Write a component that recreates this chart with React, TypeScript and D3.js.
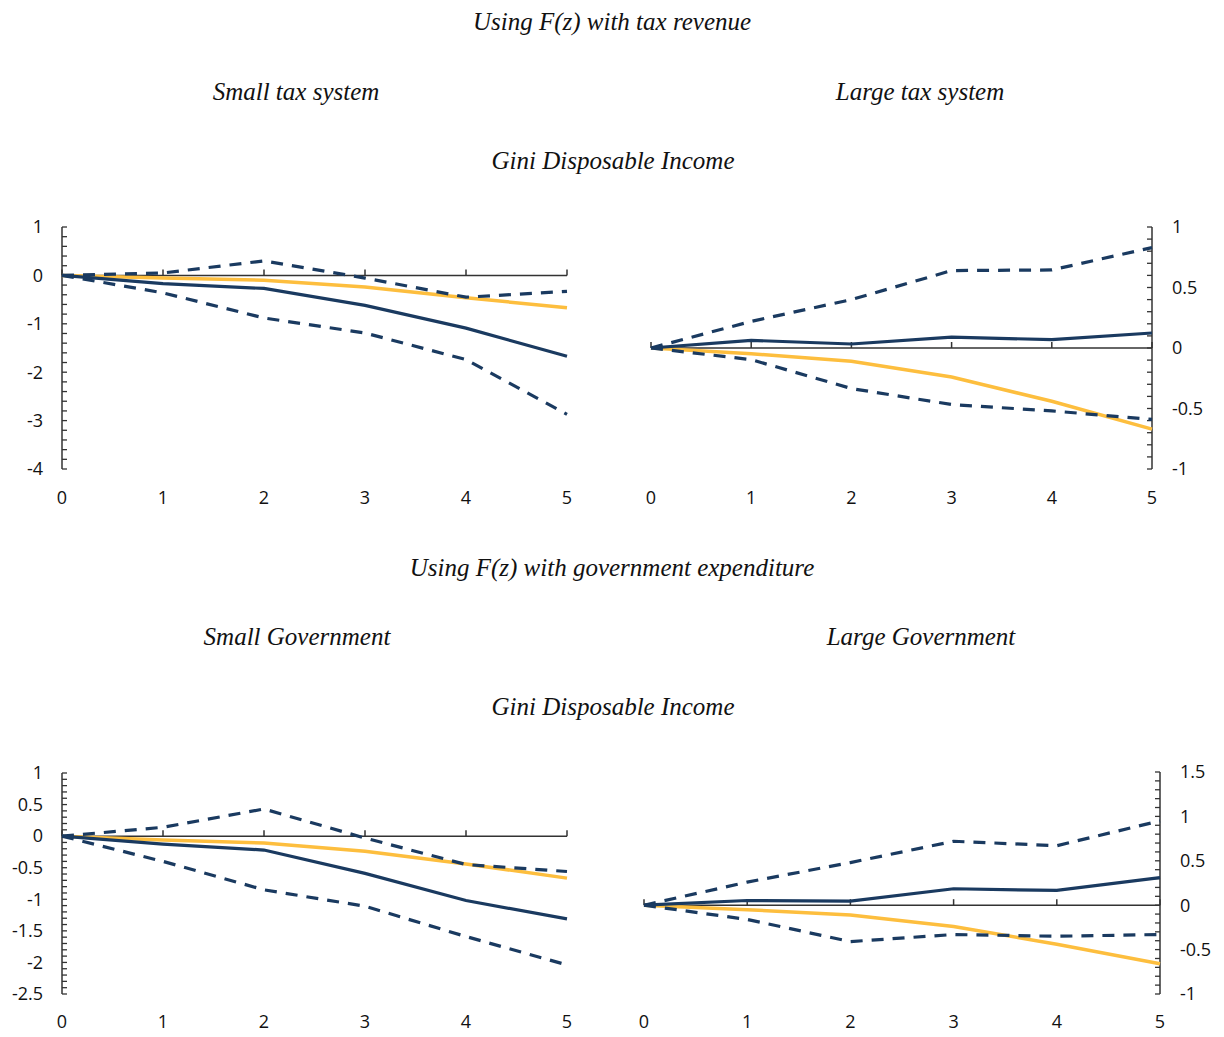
import React from "react";
import * as d3 from "d3";

// Horizon (x) values
const horizons = [0, 1, 2, 3, 4, 5];

// Panel 1: Small tax system
const p1Central = [0, -0.17, -0.27, -0.62, -1.09, -1.67];
const p1Upper = [0, 0.05, 0.3, -0.055, -0.45, -0.33];
const p1Lower = [0, -0.36, -0.88, -1.19, -1.74, -2.87];
const p1Yellow = [0, -0.055, -0.1, -0.24, -0.46, -0.67];

// Panel 2: Large tax system
const p2Central = [0, 0.063, 0.033, 0.09, 0.069, 0.124];
const p2Upper = [0, 0.22, 0.4, 0.64, 0.645, 0.83];
const p2Lower = [0, -0.096, -0.335, -0.467, -0.52, -0.59];
const p2Yellow = [0, -0.047, -0.11, -0.24, -0.44, -0.67];

// Panel 3: Small Government
const p3Central = [0, -0.127, -0.22, -0.59, -1.02, -1.31];
const p3Upper = [0, 0.14, 0.43, -0.03, -0.45, -0.56];
const p3Lower = [0, -0.4, -0.85, -1.11, -1.59, -2.04];
const p3Yellow = [0, -0.06, -0.11, -0.24, -0.44, -0.665];

// Panel 4: Large Government
const p4Central = [0, 0.053, 0.045, 0.185, 0.166, 0.31];
const p4Upper = [0, 0.26, 0.48, 0.72, 0.67, 0.95];
const p4Lower = [0, -0.16, -0.41, -0.33, -0.35, -0.33];
const p4Yellow = [0, -0.05, -0.11, -0.24, -0.44, -0.66];

// Y-axis tick values
const p1YTicks = [1, 0, -1, -2, -3, -4];
const p2YTicks = [1, 0.5, 0, -0.5, -1];
const p3YTicks = [1, 0.5, 0, -0.5, -1, -1.5, -2, -2.5];
const p4YTicks = [1.5, 1, 0.5, 0, -0.5, -1];

// Titles
const blockTitles = ["Using F(z) with tax revenue", "Using F(z) with government expenditure"];
const panelTitles = ["Small tax system", "Large tax system", "Small Government", "Large Government"];
const subTitle = "Gini Disposable Income";

const NAVY = "#1A3A60";
const YELLOW = "#FDBE3E";
const AXIS = "#333333";
const SERIF = "'Liberation Serif', 'Times New Roman', serif";
const SANS = "'Open Sans', 'Noto Sans', sans-serif";
const TICK_FS = 18;

type PanelProps = {
  x0: number; x1: number; yTop: number; yBot: number;
  domain: [number, number]; yTicks: number[]; minor: number;
  side: "left" | "right"; xLabelY: number;
  central: number[]; upper: number[]; lower: number[]; yellow: number[];
};

function Panel(p: PanelProps) {
  const x = d3.scaleLinear().domain([0, 5]).range([p.x0, p.x1]);
  const y = d3.scaleLinear().domain(p.domain).range([p.yBot, p.yTop]);
  const line = d3.line<number>().x((_, i) => x(horizons[i])).y((d) => y(d));
  const axisX = p.side === "left" ? p.x0 : p.x1;
  const nMinor = Math.round((p.domain[1] - p.domain[0]) / p.minor);
  const minorVals = d3.range(nMinor + 1).map((i) => p.domain[0] + i * p.minor);
  const tickDir = p.side === "left" ? 1 : -1;
  const y0 = y(0);
  return (
    <g>
      <line x1={p.x0} x2={p.x1} y1={y0} y2={y0} stroke={AXIS} strokeWidth={1.5} />
      {horizons.map((h) => (
        <line key={"xt" + h} x1={x(h)} x2={x(h)} y1={y0} y2={y0 - 6} stroke={AXIS} strokeWidth={1.5} />
      ))}
      <line x1={axisX} x2={axisX} y1={p.yTop} y2={p.yBot} stroke={AXIS} strokeWidth={1.5} />
      {minorVals.map((v, i) => (
        <line key={"mt" + i} x1={axisX} x2={axisX + tickDir * 5} y1={y(v)} y2={y(v)} stroke={AXIS} strokeWidth={1.3} />
      ))}
      {p.yTicks.map((v) => (
        <text key={"yl" + v} x={p.side === "left" ? axisX - 19 : axisX + 20} y={y(v)} dy="0.35em"
          textAnchor={p.side === "left" ? "end" : "start"} fontFamily={SANS} fontSize={TICK_FS} fill="#111">
          {String(v)}
        </text>
      ))}
      {horizons.map((h) => (
        <text key={"xl" + h} x={x(h)} y={p.xLabelY} dy="0.35em" textAnchor="middle" fontFamily={SANS} fontSize={TICK_FS} fill="#111">
          {String(h)}
        </text>
      ))}
      <path d={line(p.yellow) || ""} fill="none" stroke={YELLOW} strokeWidth={3.5} />
      <path d={line(p.upper) || ""} fill="none" stroke={NAVY} strokeWidth={3.2} strokeDasharray="12 9" />
      <path d={line(p.lower) || ""} fill="none" stroke={NAVY} strokeWidth={3.2} strokeDasharray="12 9" />
      <path d={line(p.central) || ""} fill="none" stroke={NAVY} strokeWidth={3.2} />
    </g>
  );
}

function Title({ x, y, text }: { x: number; y: number; text: string }) {
  return (
    <text x={x} y={y} textAnchor="middle" fontFamily={SERIF} fontStyle="italic" fontSize={25} fill="#111">
      {text}
    </text>
  );
}

export default function App() {
  return (
    <svg width={1224} height={1037} style={{ position: "absolute", left: 0, top: 0, background: "#fff" }}>
      <rect width={1224} height={1037} fill="#fff" />
      <Title x={612} y={30} text={blockTitles[0]} />
      <Title x={296} y={100} text={panelTitles[0]} />
      <Title x={920} y={100} text={panelTitles[1]} />
      <Title x={613} y={169} text={subTitle} />
      <Panel x0={62} x1={567} yTop={227} yBot={469} domain={[-4, 1]} yTicks={p1YTicks} minor={0.2}
        side="left" xLabelY={498} central={p1Central} upper={p1Upper} lower={p1Lower} yellow={p1Yellow} />
      <Panel x0={651} x1={1152} yTop={227} yBot={469} domain={[-1, 1]} yTicks={p2YTicks} minor={0.1}
        side="right" xLabelY={498} central={p2Central} upper={p2Upper} lower={p2Lower} yellow={p2Yellow} />

      <Title x={612} y={576} text={blockTitles[1]} />
      <Title x={297} y={645} text={panelTitles[2]} />
      <Title x={921} y={645} text={panelTitles[3]} />
      <Title x={613} y={715} text={subTitle} />
      <Panel x0={62} x1={567} yTop={773} yBot={994} domain={[-2.5, 1]} yTicks={p3YTicks} minor={0.1}
        side="left" xLabelY={1022} central={p3Central} upper={p3Upper} lower={p3Lower} yellow={p3Yellow} />
      <Panel x0={644} x1={1160} yTop={772} yBot={994} domain={[-1, 1.5]} yTicks={p4YTicks} minor={0.1}
        side="right" xLabelY={1022} central={p4Central} upper={p4Upper} lower={p4Lower} yellow={p4Yellow} />
    </svg>
  );
}
